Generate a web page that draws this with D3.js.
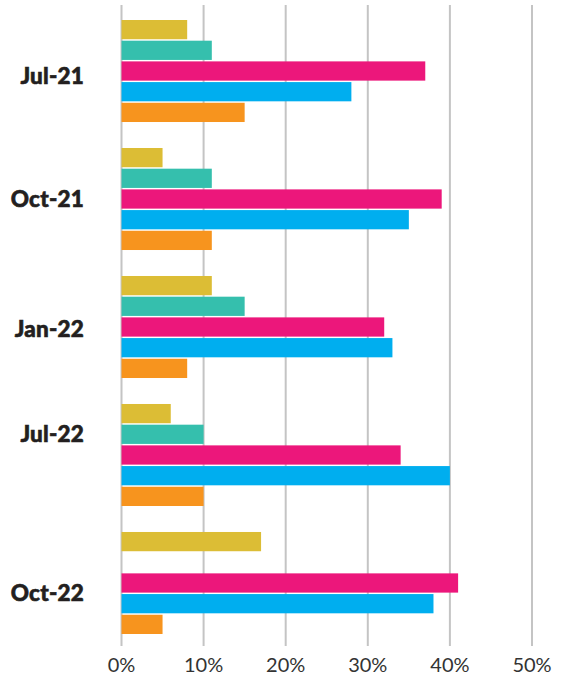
<!DOCTYPE html>
<html>
<head>
<meta charset="utf-8">
<script src="https://cdn.jsdelivr.net/npm/d3@7"></script>
<style>
  html, body { margin: 0; padding: 0; background: #fff; }
  svg { display: block; }
</style>
</head>
<body>
<svg id="chart" width="562" height="677"></svg>
<script>
// ---- Data ----
const categories = ["Jul-21", "Oct-21", "Jan-22", "Jul-22", "Oct-22"];
const seriesNames = ["s1", "s2", "s3", "s4", "s5"];
const s1Values = [8, 5, 11, 6, 17];       // yellow
const s2Values = [11, 11, 15, 10, null];  // teal
const s3Values = [37, 39, 32, 34, 41];    // pink
const s4Values = [28, 35, 33, 40, 38];    // blue
const s5Values = [15, 11, 8, 10, 5];      // orange
const tickValues = [0, 10, 20, 30, 40, 50];
const tickLabels = ["0%", "10%", "20%", "30%", "40%", "50%"];

// ---- Styles ----
const colors = ["#dcbd35", "#35bfad", "#ec177b", "#00aeef", "#f7941e"];
const labelNudge = [4.5, -0.5, 1.5, -21.5, 9.5];

const allValues = [s1Values, s2Values, s3Values, s4Values, s5Values];
const rows = [];
categories.forEach((c, i) => {
  seriesNames.forEach((s, j) => {
    const v = allValues[j][i];
    if (v !== null && v !== undefined) rows.push({ cat: c, series: s, value: v, color: colors[j] });
  });
});

const svg = d3.select("#chart");

const x = d3.scaleLinear().domain([0, 50]).range([121.5, 532]);
const y0 = d3.scaleBand().domain(categories).range([20, 634]).paddingInner(0.203).paddingOuter(0);
const y1 = d3.scaleBand().domain(seriesNames).range([0, y0.bandwidth()]).paddingInner(0.07).paddingOuter(0);

// gridlines
svg.append("g").selectAll("line").data(tickValues).join("line")
  .attr("x1", d => x(d)).attr("x2", d => x(d))
  .attr("y1", 5).attr("y2", 646)
  .attr("stroke", "#c4c4c4").attr("stroke-width", 2);

// bars
svg.append("g").selectAll("rect").data(rows).join("rect")
  .attr("x", x(0))
  .attr("y", d => y0(d.cat) + y1(d.series))
  .attr("width", d => x(d.value) - x(0))
  .attr("height", y1.bandwidth())
  .attr("fill", d => d.color);

// category labels
svg.append("g").selectAll("text").data(categories).join("text")
  .attr("x", 84)
  .attr("y", (d, i) => y0(d) + y0.bandwidth() / 2 + labelNudge[i])
  .attr("text-anchor", "end")
  .attr("dominant-baseline", "central")
  .attr("font-family", "Lato, 'Open Sans', sans-serif")
  .attr("font-weight", 900)
  .attr("font-size", 22.5)
  .attr("letter-spacing", 0.2)
  .attr("fill", "#231f20")
  .attr("stroke", "#231f20")
  .attr("stroke-width", 0.6)
  .text(d => d);

// x axis tick labels
svg.append("g").selectAll("text").data(tickValues).join("text")
  .attr("x", d => x(d))
  .attr("y", 664)
  .attr("text-anchor", "middle")
  .attr("dominant-baseline", "central")
  .attr("font-family", "Lato, 'Open Sans', sans-serif")
  .attr("font-size", 20)
  .attr("fill", "#333")
  .text((d, i) => tickLabels[i]);
</script>
</body>
</html>
